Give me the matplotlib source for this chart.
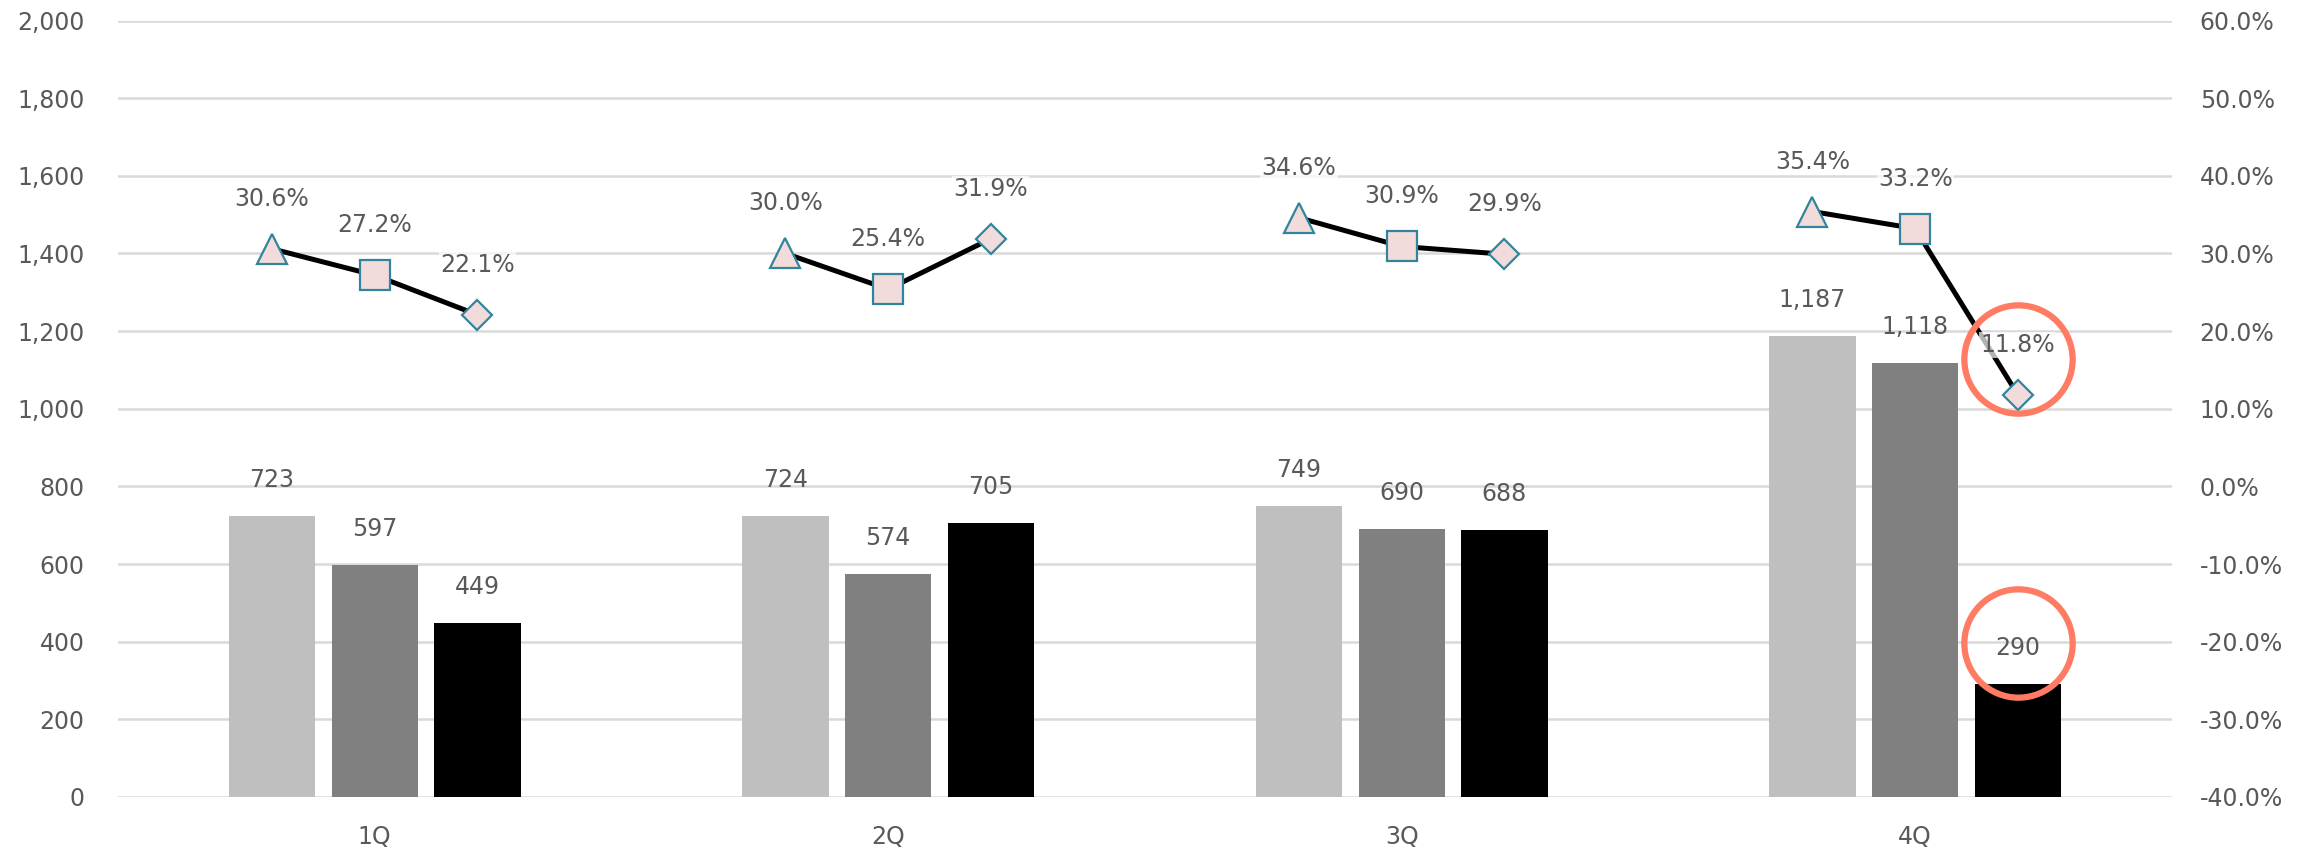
# quarterly bars with margin % lines on the right axis

import numpy as np
import matplotlib.pyplot as plt
import matplotlib.transforms as mtransforms
from matplotlib.ticker import FuncFormatter

quarters = ['1Q', '2Q', '3Q', '4Q']

# bar values (left axis)
sales_a = [723, 724, 749, 1187]
sales_b = [597, 574, 690, 1118]
sales_c = [449, 705, 688, 290]

# percent values (right axis)
pct_a = [30.6, 30.0, 34.6, 35.4]
pct_b = [27.2, 25.4, 30.9, 33.2]
pct_c = [22.1, 31.9, 29.9, 11.8]

bar_colors = ['#bfbfbf', '#808080', '#000000']
txt = '#595959'
fs = 17

plt.rcParams['font.family'] = ['DejaVu Sans']

fig = plt.figure(figsize=(23.13, 8.56), dpi=100)
ax = fig.add_axes([0.051, 0.069, 0.888, 0.907])
ax2 = ax.twinx()

x = np.arange(len(quarters))
offs = [-0.2, 0.0, 0.2]
w = 0.168

# bars
for k, vals in enumerate([sales_a, sales_b, sales_c]):
    ax.bar(x + offs[k], vals, width=w, color=bar_colors[k], zorder=3)
    for xi, v in zip(x + offs[k], vals):
        ax.annotate(f'{v:,}', (xi, v), xytext=(0, 26), textcoords='offset points',
                    ha='center', va='center', fontsize=fs, color=txt, zorder=5)

# lines per quarter
mk = ['^', 's', 'D']
ms = [22, 22, 15.5]
pcts = np.array([pct_a, pct_b, pct_c])
for i in range(len(quarters)):
    ax2.plot(x[i] + np.array(offs), pcts[:, i], color='black', lw=3.6, zorder=3,
             solid_capstyle='round')
    for k in range(3):
        ax2.plot(x[i] + offs[k], pcts[k, i], marker=mk[k], ms=ms[k],
                 mfc='#f2dcdb', mec='#31849b', mew=1.6, zorder=4, ls='none')
        ax2.annotate(f'{pcts[k, i]:.1f}%', (x[i] + offs[k], pcts[k, i]),
                     xytext=(0, 36), textcoords='offset points',
                     ha='center', va='center', fontsize=fs, color=txt, zorder=5,
                     bbox=dict(boxstyle='square,pad=0.05', fc='white', ec='none', alpha=0.7))

# highlight circles on the 4Q third series labels
circ = dict(marker='o', ms=78, mfc='none', mec='#ff7b63', mew=4.5, ls='none', zorder=6)
t1 = mtransforms.offset_copy(ax2.transData, fig=fig, x=0, y=26, units='points')
ax2.plot(x[3] + offs[2], pct_c[3], transform=t1, clip_on=False, **circ)
t2 = mtransforms.offset_copy(ax.transData, fig=fig, x=0, y=30, units='points')
ax.plot(x[3] + offs[2], sales_c[3], transform=t2, clip_on=False, **circ)

ax.set_xlim(-0.5, 3.5)
ax.set_ylim(0, 2000)
ax.set_yticks(np.arange(0, 2001, 200))
ax.yaxis.set_major_formatter(FuncFormatter(lambda v, p: f'{int(v):,}'))
ax2.set_ylim(-40, 60)
ax2.set_yticks(np.arange(-40, 61, 10))
ax2.yaxis.set_major_formatter(FuncFormatter(lambda v, p: f'{v:.1f}%'))

ax.set_xticks(x)
ax.set_xticklabels(quarters)
ax.grid(axis='y', color='#d9d9d9', lw=1.8, zorder=0)
ax.set_axisbelow(True)

for a in (ax, ax2):
    for s in a.spines.values():
        s.set_visible(False)
    a.tick_params(length=0, labelsize=fs, colors=txt)
ax.tick_params(axis='y', pad=24)
ax2.tick_params(axis='y', pad=20)
ax.tick_params(axis='x', pad=20)

plt.savefig('out.png', dpi=100)
